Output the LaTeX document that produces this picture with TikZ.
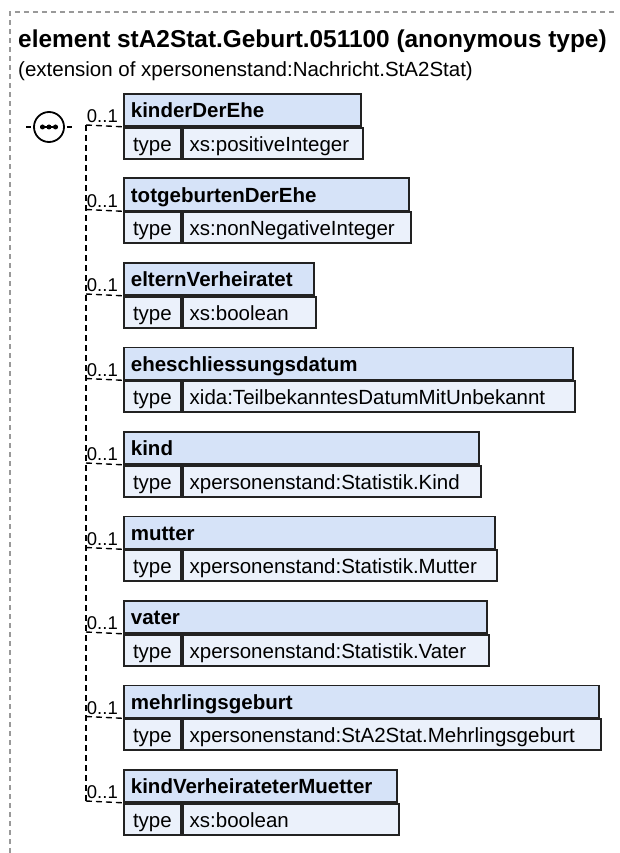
\documentclass[tikz,border=0pt]{standalone}
\usepackage{fontspec}
\setmainfont{Liberation Sans}
\usetikzlibrary{positioning,calc}
\definecolor{hdrblue}{HTML}{D6E3F8}
\definecolor{rowblue}{HTML}{EBF1FB}
\definecolor{frameline}{HTML}{222222}
\definecolor{outergray}{HTML}{999999}

\begin{document}
\begin{tikzpicture}[
    x=1pt, y=-1pt,
    hdr/.style={rectangle, draw=frameline, line width=1.8pt, fill=hdrblue, anchor=north west, minimum height=32pt, inner xsep=7pt, align=left, font=\fontsize{20.5}{24}\selectfont\bfseries, text height=17.5pt, text depth=1.5pt},
    cell/.style={rectangle, draw=frameline, line width=1.8pt, fill=rowblue, anchor=north west, minimum height=31pt, inner xsep=7pt, align=left, font=\fontsize{20.5}{24}\selectfont, text height=17.5pt, text depth=1.5pt},
    conn/.style={line width=1.4pt, dash pattern=on 6pt off 4pt},
    occ/.style={font=\fontsize{18.5}{21}\selectfont, anchor=base east, inner sep=0pt}
]
\useasboundingbox (0,0) rectangle (619,853);

% outer frame (top and left only)
\draw[outergray, line width=1.2pt, dash pattern=on 5pt off 4pt] (10,853) -- (10,12) -- (615,12);

\node[anchor=base west, inner sep=0pt, font=\fontsize{24.4}{28}\selectfont\bfseries] (title) at (18,48) {element stA2Stat.Geburt.051100 (anonymous type)};
\node[anchor=base west, inner sep=0pt, font=\fontsize{20.5}{24}\selectfont] (subtitle) at (18,77) {(extension of xpersonenstand:Nachricht.StA2Stat)};

% sequence compositor
\node[circle, draw, line width=1.8pt, fill=white, minimum size=30pt, inner sep=0pt] (seq) at (49,127) {};
\draw[line width=1.6pt] ($(seq.center)+(-9,0)$) -- ($(seq.center)+(9,0)$);
\foreach \dx in {-6.5,0,6.5}
    \fill ($(seq.center)+(\dx,0)$) circle (2.5);
\draw[line width=1.5pt] ($(seq.west)+(-7,0)$) -- ($(seq.west)+(-2,0)$);
\draw[line width=1.5pt] ($(seq.east)+(2,0)$) -- ($(seq.east)+(7,0)$);

% child elements
\foreach \nm/\tp/\r [count=\i] in {
    kinderDerEhe/xs:positiveInteger/360,
    totgeburtenDerEhe/xs:nonNegativeInteger/408,
    elternVerheiratet/xs:boolean/313,
    eheschliessungsdatum/xida:TeilbekanntesDatumMitUnbekannt/572,
    kind/xpersonenstand:Statistik.Kind/478,
    mutter/xpersonenstand:Statistik.Mutter/494,
    vater/xpersonenstand:Statistik.Vater/486,
    mehrlingsgeburt/xpersonenstand:StA2Stat.Mehrlingsgeburt/598,
    kindVerheirateterMuetter/xs:boolean/396} {
    \pgfmathsetmacro\top{93+84.5*(\i-1)}
    \pgfmathsetmacro\hw{\r-137}
    \pgfmathsetmacro\vw{\r-194}
    \node[hdr, text width=\hw pt] (h\i) at (123,\top) {\nm};
    \node[cell, minimum width=57pt, align=center] (t\i) at (h\i.south west) {type};
    \node[cell, text width=\vw pt] (v\i) at (t\i.north east) {\tp};
    \coordinate (j\i) at (86,{\top+32});
    \draw[conn] (j\i) -- (h\i.south west);
    \node[occ] (o\i) at ($(h\i.south west)+(-5,-4)$) {0..1};
}
\draw[conn] (j1) -- (j9);
\end{tikzpicture}
\end{document}
